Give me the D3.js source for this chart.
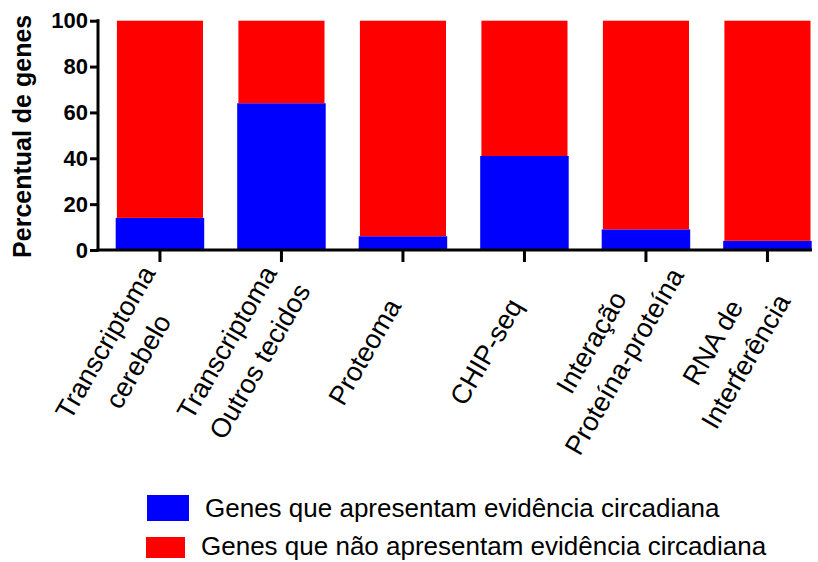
<!DOCTYPE html>
<html>
<head>
<meta charset="utf-8">
<script src="https://cdn.jsdelivr.net/npm/d3@7"></script>
<style>
  body { margin: 0; background: #fff; }
  svg { display: block; font-family: "Liberation Sans", Arial, sans-serif; }
  .axis path, .axis line { stroke: #000; stroke-width: 3; }
  .y-axis text { font-size: 22px; font-weight: bold; fill: #000; }
  .x-label { font-size: 27px; fill: #000; }
  .legend text { font-size: 26px; fill: #000; }
</style>
</head>
<body>
<div id="chart"></div>
<script>
// categories (each line of the tick label)
const categories = [
    ["Transcriptoma", "cerebelo"],
    ["Transcriptoma", "Outros tecidos"],
    ["Proteoma"],
    ["CHIP-seq"],
    ["Interação", "Proteína-proteína"],
    ["RNA de", "Interferência"]
];
// percent of genes with circadian evidence / without
const withEvidence = [14, 64, 6, 41, 9, 4];
const withoutEvidence = [86, 36, 94, 59, 91, 96];
const yTicks = [0, 20, 40, 60, 80, 100];
const seriesNames = [
    "Genes que apresentam evidência circadiana",
    "Genes que não apresentam evidência circadiana"
];
const seriesColors = ["#0000ff", "#ff0000"];
const yTitle = "Percentual de genes";

const width = 818, height = 562;
const margin = {left: 98, top: 20.7, bottom: 250};

let svg = d3.select("#chart").append("svg")
    .attr("width", width)
    .attr("height", height);

let rows = categories.map((c, i) => ({
    key: c.join(" "),
    lines: c,
    yes: withEvidence[i],
    no: withoutEvidence[i]
}));

let stack = d3.stack().keys(["yes", "no"]);
let series = stack(rows);

let x = d3.scaleBand()
    .domain(rows.map(d => d.key))
    .range([115.7, 811.7])
    .paddingInner(0.2716)
    .paddingOuter(0);

let y = d3.scaleLinear()
    .domain([0, 100])
    .range([margin.bottom, margin.top]);

// bars
svg.append("g").selectAll("g")
    .data(series)
    .join("g")
    .attr("fill", (s, i) => seriesColors[i])
    .selectAll("rect")
    .data(s => s.map(v => Object.assign({}, v, {k: s.key})))
    .join("rect")
    .attr("x", d => x(d.data.key) + (d.k == "no" ? 1.2 : 0))
    .attr("width", d => x.bandwidth() - (d.k == "no" ? 2.4 : 0))
    .attr("y", d => y(d[1]))
    .attr("height", d => y(d[0]) - y(d[1]));

// y axis
let yAxis = d3.axisLeft(y)
    .tickValues(yTicks)
    .tickSize(8)
    .tickSizeOuter(0)
    .tickPadding(2);

svg.append("g")
    .attr("class", "axis y-axis")
    .attr("transform", `translate(${margin.left},0)`)
    .call(yAxis)
    .select(".domain")
    .attr("d", `M0,${y(0) + 1.5}V${y(100) - 1.5}`);

// x axis
svg.append("line")
    .attr("class", "axis")
    .attr("x1", margin.left - 1.5)
    .attr("x2", 812)
    .attr("y1", y(0))
    .attr("y2", y(0))
    .attr("stroke", "#000")
    .attr("stroke-width", 3);

let xAxis = d3.axisBottom(x)
    .tickSize(12)
    .tickSizeOuter(0)
    .tickFormat("");

let xg = svg.append("g")
    .attr("class", "axis x-axis")
    .attr("transform", `translate(0,${y(0)})`)
    .call(xAxis);
xg.select(".domain").remove();

// rotated category labels, lines centred in the block
let lh = 38;
let labels = svg.append("g").selectAll("g")
    .data(rows)
    .join("g")
    .attr("transform", d => {
        let cx = x(d.key) + x.bandwidth() / 2 - 38;
        return `translate(${cx},352) rotate(-60)`;
    });

labels.append("text")
    .attr("class", "x-label")
    .attr("text-anchor", "middle")
    .selectAll("tspan")
    .data(d => d.lines.map((l, i) => ({l: l, i: i, n: d.lines.length})))
    .join("tspan")
    .attr("x", 0)
    .attr("y", d => (d.i - (d.n - 1) / 2) * lh + 9)
    .text(d => d.l);

// y title
svg.append("text")
    .attr("transform", `translate(31,${(y(0) + y(100)) / 2 + 1}) rotate(-90)`)
    .attr("text-anchor", "middle")
    .style("font-size", "25px")
    .style("font-weight", "bold")
    .text(yTitle);

// legend
let legendBoxes = [
    {x: 147, y: 495, w: 42, h: 26, tx: 205, ty: 517},
    {x: 146, y: 537, w: 39, h: 21, tx: 201, ty: 555}
];
let legend = svg.append("g").attr("class", "legend");
legend.selectAll("rect")
    .data(seriesNames)
    .join("rect")
    .attr("x", (d, i) => legendBoxes[i].x)
    .attr("y", (d, i) => legendBoxes[i].y)
    .attr("width", (d, i) => legendBoxes[i].w)
    .attr("height", (d, i) => legendBoxes[i].h)
    .attr("fill", (d, i) => seriesColors[i]);
legend.selectAll("text")
    .data(seriesNames)
    .join("text")
    .attr("x", (d, i) => legendBoxes[i].tx)
    .attr("y", (d, i) => legendBoxes[i].ty)
    .text(d => d);
</script>
</body>
</html>
